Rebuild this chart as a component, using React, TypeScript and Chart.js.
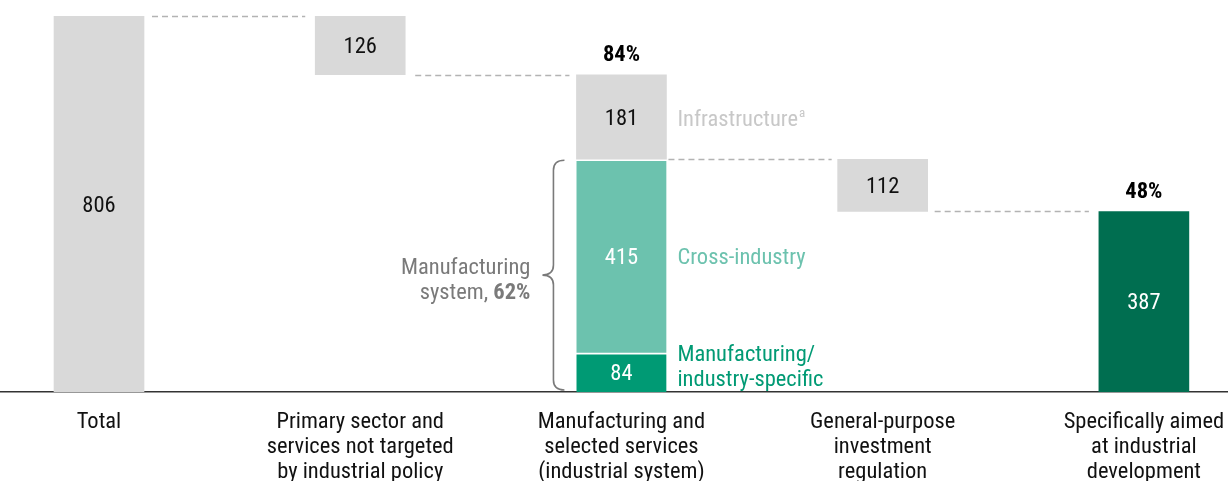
import React, { useEffect, useRef } from "react";
import { Chart, registerables } from "chart.js";

Chart.register(...registerables);

// ---- data ----
const categoryLabels: string[][] = [
  ["Total"],
  ["Primary sector and", "services not targeted", "by industrial policy"],
  ["Manufacturing and", "selected services", "(industrial system)"],
  ["General-purpose", "investment", "regulation"],
  ["Specifically aimed", "at industrial", "development"],
];
const totalValue = 806;
const primaryValue = 126;
const industrySpecificValue = 84;
const crossIndustryValue = 415;
const infrastructureValue = 181;
const generalPurposeValue = 112;
const aimedValue = 387;
const industrialSystemShare = "84%";
const aimedShare = "48%";
const manufacturingShare = "62%";
const segmentNames = ["Infrastructure", "Cross-industry", "Manufacturing/", "industry-specific"];
const braceLabel = ["Manufacturing", "system, "];

// ---- styles ----
const FONT = "'Roboto Condensed', Roboto, sans-serif";
const FS = 22.5;
const GREY = "#d9d9d9";
const TEAL = "#6cc2ae";
const GREEN = "#009a74";
const DARK = "#006e50";

const industrialTop = totalValue - primaryValue;
const manufacturingTop = industrySpecificValue + crossIndustryValue;
const generalBottom = manufacturingTop - generalPurposeValue;

const overlay = {
  id: "overlay",
  afterDatasetsDraw(chart: any) {
    const ctx = chart.ctx;
    const xs = chart.scales.x;
    const ys = chart.scales.y;
    const X = (v: number) => xs.getPixelForValue(v);
    const Y = (v: number) => ys.getPixelForValue(v);
    const half = 45;
    ctx.save();

    // connectors
    ctx.strokeStyle = "#b3b3b3";
    ctx.lineWidth = 1.5;
    ctx.setLineDash([6, 4]);
    const conn = (i: number, v: number, g1: number, g2: number) => {
      const y = Math.round(Y(v)) + 0.5;
      ctx.beginPath();
      ctx.moveTo(X(i) + half + g1, y);
      ctx.lineTo(X(i + 1) - half - g2, y);
      ctx.stroke();
    };
    conn(0, totalValue, 8, 10);
    conn(1, industrialTop, 10, 7);
    conn(2, manufacturingTop, 2, 6);
    conn(3, generalBottom, 7, 10);
    ctx.setLineDash([]);

    // value labels
    ctx.textAlign = "center";
    ctx.textBaseline = "middle";
    const val = (i: number, a: number, b: number, text: string, color: string) => {
      ctx.fillStyle = color;
      ctx.font = `${FS}px ${FONT}`;
      ctx.fillText(text, X(i), (Y(a) + Y(b)) / 2 + 2);
    };
    val(0, 0, totalValue, String(totalValue), "#111");
    val(1, industrialTop, totalValue, String(primaryValue), "#111");
    val(2, manufacturingTop, industrialTop, String(infrastructureValue), "#111");
    val(2, industrySpecificValue, manufacturingTop, String(crossIndustryValue), "#fff");
    val(2, 0, industrySpecificValue, String(industrySpecificValue), "#fff");
    val(3, generalBottom, manufacturingTop, String(generalPurposeValue), "#111");
    val(4, 0, aimedValue, String(aimedValue), "#fff");

    // shares above bars
    ctx.font = `bold ${FS}px ${FONT}`;
    ctx.fillStyle = "#000";
    ctx.fillText(industrialSystemShare, X(2), Y(industrialTop) - 19);
    ctx.fillText(aimedShare, X(4), Y(aimedValue) - 19);

    // segment names on right
    ctx.textAlign = "left";
    ctx.font = `${FS}px ${FONT}`;
    const lx = X(2) + half + 11;
    ctx.fillStyle = "#c8c8c8";
    const yInf = (Y(manufacturingTop) + Y(industrialTop)) / 2 + 3;
    ctx.fillText(segmentNames[0], lx, yInf);
    const w = ctx.measureText(segmentNames[0]).width;
    ctx.font = `13px ${FONT}`;
    ctx.fillText("a", lx + w + 1, yInf - 6);
    ctx.font = `${FS}px ${FONT}`;
    ctx.fillStyle = TEAL;
    ctx.fillText(segmentNames[1], lx, (Y(industrySpecificValue) + Y(manufacturingTop)) / 2 + 2);
    ctx.fillStyle = GREEN;
    ctx.fillText(segmentNames[2], lx, Y(industrySpecificValue) + 3);
    ctx.fillText(segmentNames[3], lx, Y(industrySpecificValue) + 28);

    // brace
    const top = Y(manufacturingTop) + 1;
    const bot = Y(0) - 2;
    const mid = (top + bot) / 2;
    const bx = X(2) - half - 12;
    const vx = bx - 11;
    const px = bx - 22;
    ctx.strokeStyle = "#7a7a7a";
    ctx.lineWidth = 1.6;
    ctx.beginPath();
    ctx.moveTo(bx, top);
    ctx.quadraticCurveTo(vx, top, vx, top + 10);
    ctx.lineTo(vx, mid - 10);
    ctx.quadraticCurveTo(vx, mid, px, mid);
    ctx.quadraticCurveTo(vx, mid, vx, mid + 10);
    ctx.lineTo(vx, bot - 10);
    ctx.quadraticCurveTo(vx, bot, bx, bot);
    ctx.stroke();

    // brace label
    ctx.textAlign = "right";
    const rx = px - 12;
    ctx.fillStyle = "#7a7a7a";
    ctx.font = `${FS}px ${FONT}`;
    ctx.fillText(braceLabel[0], rx, mid - 7);
    ctx.font = `bold ${FS}px ${FONT}`;
    ctx.fillText(manufacturingShare, rx, mid + 18);
    const bw = ctx.measureText(manufacturingShare).width;
    ctx.font = `${FS}px ${FONT}`;
    ctx.fillText(braceLabel[1], rx - bw, mid + 18);

    ctx.restore();
  },
};

export default function App() {
  const ref = useRef<HTMLCanvasElement>(null);
  useEffect(() => {
    if (!ref.current) return;
    const chart = new Chart(ref.current, {
      type: "bar",
      data: {
        datasets: [
          {
            label: "grey",
            data: [
              { x: 0, y: [0, totalValue] },
              { x: 1, y: [industrialTop, totalValue] },
              { x: 2, y: [manufacturingTop, industrialTop] },
              { x: 3, y: [generalBottom, manufacturingTop] },
            ] as any,
            backgroundColor: GREY,
            borderWidth: 0,
            grouped: false,
            barThickness: 90,
          } as any,
          {
            label: "cross",
            data: [{ x: 2, y: [industrySpecificValue, manufacturingTop] }] as any,
            backgroundColor: TEAL,
            borderColor: "#fff",
            borderWidth: { top: 2, left: 0, right: 0, bottom: 0 },
            borderSkipped: false,
            grouped: false,
            barThickness: 90,
          } as any,
          {
            label: "specific",
            data: [{ x: 2, y: [0, industrySpecificValue] }] as any,
            backgroundColor: GREEN,
            borderColor: "#fff",
            borderWidth: { top: 2, left: 0, right: 0, bottom: 0 },
            borderSkipped: false,
            grouped: false,
            barThickness: 90,
          } as any,
          {
            label: "aimed",
            data: [{ x: 4, y: [0, aimedValue] }] as any,
            backgroundColor: DARK,
            borderWidth: 0,
            grouped: false,
            barThickness: 90,
          } as any,
        ],
      },
      options: {
        animation: false,
        responsive: true,
        maintainAspectRatio: false,
        layout: { padding: { top: 16, left: 0, right: 0, bottom: 0 } },
        plugins: { legend: { display: false }, tooltip: { enabled: false } },
        scales: {
          x: {
            type: "linear",
            min: -0.379,
            max: 4.322,
            offset: false,
            grid: { display: true, color: "transparent", drawTicks: false },
            border: { display: true, color: "#333", width: 1.6 },
            afterBuildTicks: (s: any) => {
              s.ticks = categoryLabels.map((_, i) => ({ value: i }));
            },
            afterFit: (s: any) => {
              s.height = 89;
              s.paddingLeft = 0;
              s.paddingRight = 0;
            },
            ticks: {
              padding: 18,
              autoSkip: false,
              maxRotation: 0,
              color: "#111",
              font: { family: FONT, size: FS, lineHeight: "25px" } as any,
              callback: (v: any) => categoryLabels[Math.round(Number(v))] ?? "",
            },
          },
          y: { display: false, min: 0, max: totalValue },
        },
      },
      plugins: [overlay],
    });
    return () => chart.destroy();
  }, []);
  return (
    <div style={{ position: "absolute", left: 0, top: 0, width: 1228, height: 481, background: "#fff" }}>
      <canvas ref={ref} />
    </div>
  );
}
